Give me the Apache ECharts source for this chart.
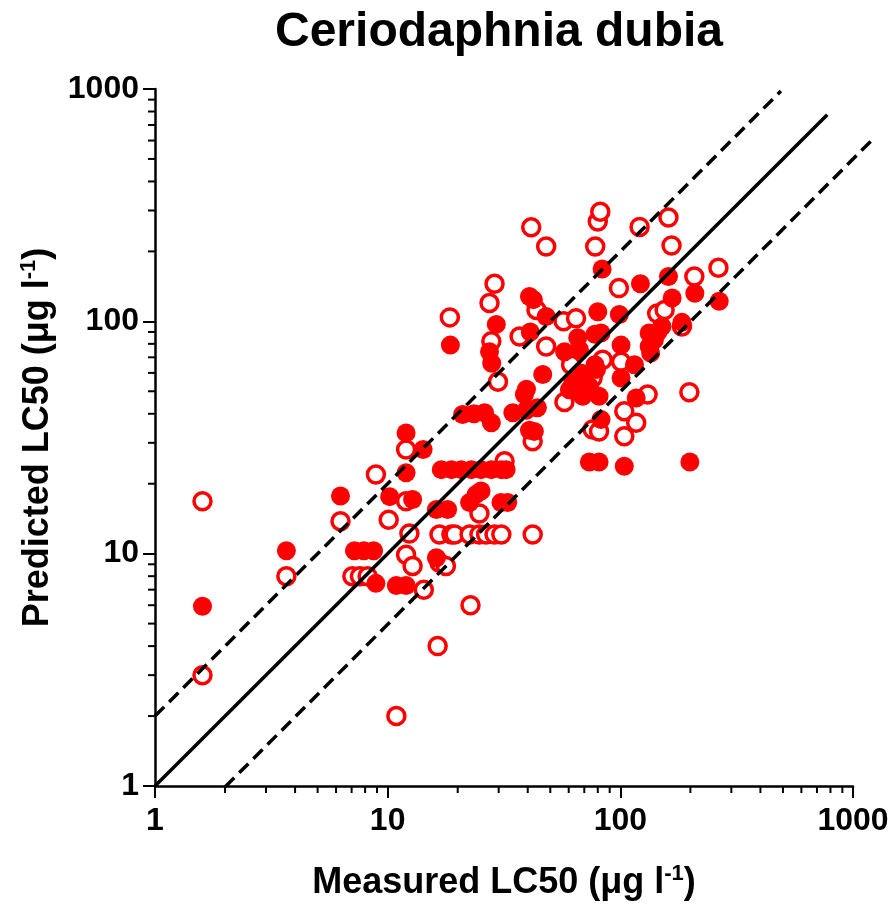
<!DOCTYPE html>
<html>
<head>
<meta charset="utf-8">
<script src="https://cdn.jsdelivr.net/npm/echarts@6/dist/echarts.min.js"></script>
<style>
html,body{margin:0;padding:0;background:#fff;}
#chart{width:893px;height:906px;}
</style>
</head>
<body>
<div id="chart"></div>
<script>
// ---- data ----
const openMeasured = [1.6,1.6,3.67,6.27,7.05,7.6,8.2,8.9,10.1,12.0,12.0,12.0,12.8,12.4,14.3,10.9,16.4,22.7,16.7,17.8,
  16.7,18.8,19.4,22.5,24.8,26.5,28.8,30.8,42.0,
  24.8,31.8,18.5,27.4,28.8,27.9,29.8,36.9,43.6,48,41.4,48,42,57,64.5,78,80,82,121,161,166,98.6,208,264,144,155,184,
  61.4,84,100.7,76,57.5,104,131,198,117,104,76,81];
const openPredicted = [16.8,3.0,8.0,13.8,8.0,8.0,8.0,21.9,14.0,16.8,28.1,9.9,8.85,12.2,7.0,2.0,4.0,6.0,9.15,8.85,
  12.1,12.1,12.1,12.1,12.1,12.1,12.1,12.1,12.1,
  14.9,25.0,104,120,145,82,55,86,112,78,254,210,30.5,100,103,210,269,296,255,280,212,139,156,170,108,112,95,
  65,68.4,67,57,45,41,48.4,49.5,36.6,32,34.2,33.6];

const filledMeasured = [1.6,3.67,6.27,7.2,7.9,8.7,8.9,10.9,12.0,10.2,12.8,12.0,14.2,12.0,16.2,16.2,18.1,
  17.0,18.8,20.7,22.9,25.2,27.9,30.8,32.3,
  24.0,25.2,22.5,30.7,32.8,21,23.5,26.1,27.9,34.5,39.4,42.7,38.7,39.5,18.6,29.3,27.4,28,40.7,42.3,48,41,46.4,
  57.6,65.6,77.8,66.7,77.8,60.4,68.9,81,73.6,62.4,82.6,73.6,81,104,199,100.7,115,100.7,117,80,99,83.5,122,161,
  209,266,167,184,133,140,133,135,145,151,71,44,40.7,82.6,67.5,79];
const filledPredicted = [5.94,10.3,17.7,10.3,10.3,10.3,7.45,7.3,7.3,17.6,17.1,33.1,28.1,22.3,9.6,15.5,15.5,
  23,23,23,23,23,23,23,23,
  18.0,18.6,16.6,16.6,16.6,39.7,40,40.4,36.6,40.4,41.4,33.6,48.4,51,79,97,74,66,128,124,105,90,59,
  74,85,88,75.5,65,50.8,47.6,47.6,52.5,54.3,37.8,24.8,24.8,23.8,24.8,79,65,57,46.8,110,107,168,145,156,
  132,122,126,99,89,83,78,73,90,95,59,42.5,34,89,60,62];

// reference lines: 1:1, 2x and 0.5x (x extents)
const lineOneToOneX = [1, 775];
const lineUpperX = [1, 490];
const lineLowerX = [2, 1200];

// axis tick values
const majorTicks = [1, 10, 100, 1000];
const minorTicks = [2,3,4,5,6,7,8,9,20,30,40,50,60,70,80,90,200,300,400,500,600,700,800,900];

const pairs = (xs, ys) => xs.map((x, i) => [x, ys[i]]);
const FONT = '"Liberation Sans", Arial, sans-serif';

const chart = echarts.init(document.getElementById('chart'), null, {renderer: 'canvas'});

const GRID = {left: 155, top: 89, width: 698, height: 698};
const xMin = majorTicks[0], xMax = majorTicks[majorTicks.length - 1];
// an invisible, wider companion grid (same scale per decade) so the lower
// reference line may run past the right end of the x axis as in the original
const extMax = 1300;
const extWidth = GRID.width * Math.log10(extMax / xMin) / Math.log10(xMax / xMin);

const axisCommon = {
  type: 'log',
  logBase: 10,
  min: xMin,
  max: xMax,
  splitNumber: 3,
  splitLine: {show: false},
  axisLine: {show: true, onZero: false, lineStyle: {color: '#000', width: 2.5}},
  axisTick: {show: true, length: 12, lineStyle: {color: '#000', width: 2}},
  axisLabel: {
    color: '#000', fontSize: 32, fontWeight: 'bold', fontFamily: FONT,
    formatter: v => String(Math.round(v))
  },
  nameLocation: 'middle',
  nameTextStyle: {
    color: '#000', fontFamily: FONT, fontWeight: 'bold', fontSize: 36,
    rich: {
      a: {color: '#000', fontFamily: FONT, fontWeight: 'bold', fontSize: 36},
      s: {color: '#000', fontFamily: FONT, fontWeight: 'bold', fontSize: 22, padding: [0, 0, 18, 0]}
    }
  }
};

const hiddenAxis = {
  type: 'log', logBase: 10, show: false, splitLine: {show: false}
};

const option = {
  animation: false,
  backgroundColor: '#fff',
  title: {
    text: 'Ceriodaphnia dubia',
    left: 270, top: 4,
    textStyle: {color: '#000', fontFamily: FONT, fontWeight: 'bold', fontSize: 48}
  },
  grid: [
    Object.assign({containLabel: false}, GRID),
    {left: GRID.left, top: GRID.top, width: extWidth, height: GRID.height, containLabel: false}
  ],
  xAxis: [
    Object.assign({}, axisCommon, {
      gridIndex: 0,
      name: '{a|Measured LC50 (μg l}{s|-1}{a|)}',
      nameGap: 77,
      axisLabel: Object.assign({}, axisCommon.axisLabel, {margin: 19})
    }),
    Object.assign({}, hiddenAxis, {gridIndex: 1, min: xMin, max: extMax})
  ],
  yAxis: [
    Object.assign({}, axisCommon, {
      gridIndex: 0,
      name: '{a|Predicted LC50 (μg l}{s|-1}{a|)}',
      nameGap: 97,
      axisLabel: Object.assign({}, axisCommon.axisLabel, {margin: 16})
    }),
    Object.assign({}, hiddenAxis, {gridIndex: 1, min: xMin, max: xMax})
  ],
  series: [
    {
      type: 'scatter', name: 'open',
      data: pairs(openMeasured, openPredicted),
      symbol: 'circle', symbolSize: 17,
      itemStyle: {color: '#fff', borderColor: '#ff0000', borderWidth: 3.5, opacity: 1},
      z: 2, silent: true
    },
    {
      type: 'scatter', name: 'filled',
      data: pairs(filledMeasured, filledPredicted),
      symbol: 'circle', symbolSize: 19,
      itemStyle: {color: '#ff0000', opacity: 1},
      z: 3, silent: true
    },
    {
      type: 'line', data: lineOneToOneX.map(x => [x, x]),
      symbol: 'none', clip: false, silent: true, z: 5,
      lineStyle: {color: '#000', width: 3.5}
    },
    {
      type: 'line', data: lineUpperX.map(x => [x, 2 * x]),
      symbol: 'none', clip: false, silent: true, z: 5,
      lineStyle: {color: '#000', width: 3.5, type: [13, 7]}
    },
    {
      type: 'line', xAxisIndex: 1, yAxisIndex: 1,
      data: lineLowerX.map(x => [x, x / 2]),
      symbol: 'none', clip: false, silent: true, z: 5,
      lineStyle: {color: '#000', width: 3.5, type: [13, 7]}
    },
    {
      // minor ticks on the x axis
      type: 'custom', silent: true, z: 6,
      data: minorTicks.map(v => [v, majorTicks[0]]),
      renderItem: (params, api) => {
        const p = api.coord([api.value(0), api.value(1)]);
        return {type: 'line', shape: {x1: p[0], y1: p[1], x2: p[0], y2: p[1] + 7},
                style: {stroke: '#000', lineWidth: 2}};
      }
    },
    {
      // minor ticks on the y axis
      type: 'custom', silent: true, z: 6,
      data: minorTicks.map(v => [majorTicks[0], v]),
      renderItem: (params, api) => {
        const p = api.coord([api.value(0), api.value(1)]);
        return {type: 'line', shape: {x1: p[0] - 7, y1: p[1], x2: p[0], y2: p[1]},
                style: {stroke: '#000', lineWidth: 2}};
      }
    }
  ]
};
chart.setOption(option);
</script>
</body>
</html>
